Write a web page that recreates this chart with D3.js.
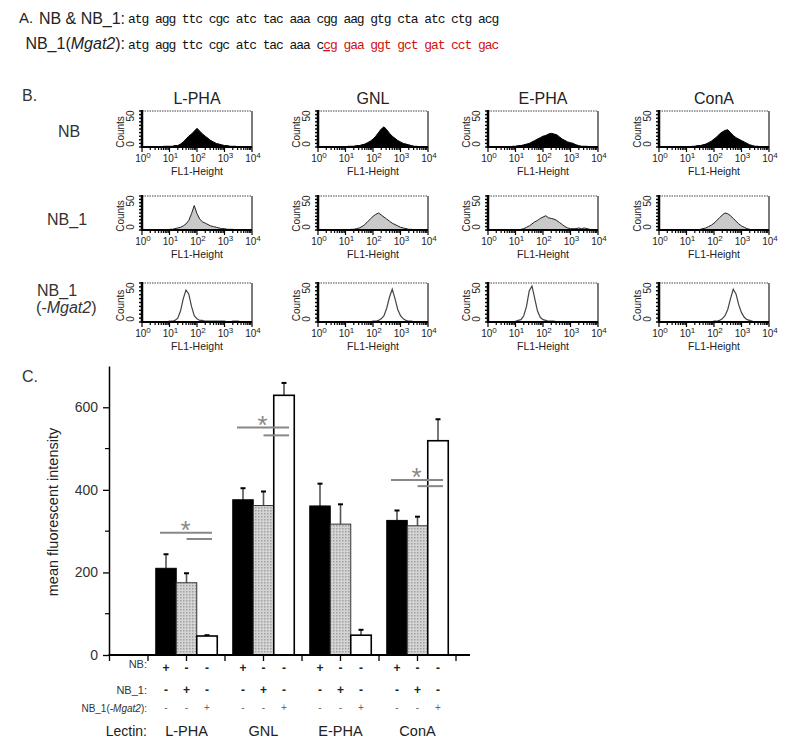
<!DOCTYPE html>
<html><head><meta charset="utf-8">
<script src="https://cdn.jsdelivr.net/npm/d3@7"></script>
<style>body{margin:0;background:#fff} svg{display:block}</style>
</head><body>
<svg id="c" width="800" height="754"></svg>
<script>
// ---------------- DATA ----------------
const seqWild = ["atg","agg","ttc","cgc","atc","tac","aaa","cgg","aag","gtg","cta","atc","ctg","acg"];
const seqMut  = ["atg","agg","ttc","cgc","atc","tac","aaa","ccg","gaa","ggt","gct","gat","cct","gac"];
const mutCodon = 7; // first altered codon (0-based)

const lectins = ["L-PHA","GNL","E-PHA","ConA"];
const cellLines = ["NB","NB_1","NB_1(-Mgat2)"];

// Panel B histograms: bins in log10(FL1-Height), counts per bin
const binLog = [0.0,0.1,0.2,0.3,0.4,0.5,0.6,0.7,0.8,0.9,1.0,1.1,1.2,1.3,1.4,1.5,1.6,1.7,1.8,1.9,2.0,
                2.1,2.2,2.3,2.4,2.5,2.6,2.7,2.8,2.9,3.0,3.1,3.2,3.3,3.4,3.5,3.6,3.7,3.8,3.9,4.0];
const histNB_LPHA = [0,0,0,0,0,0,0,0,1,1,1,1,2,2,4,7,11,15,18,22,26,22,18,15,12,9,7,5,4,3,2,2,1,1,1,0,0,0,0,0,0];
const histNB_GNL  = [0,0,0,0,0,0,0,0,0,0,0,1,1,1,2,2,3,4,6,8,11,15,20,25,28,24,19,15,12,9,7,5,4,3,2,1,1,0,0,0,0];
const histNB_EPHA = [0,0,0,0,0,0,0,0,0,1,1,2,2,3,4,5,7,9,11,13,15,16,18,19,18,17,14,11,9,7,6,5,3,2,1,1,1,0,0,0,0];
const histNB_ConA = [0,0,0,0,0,0,0,0,0,0,0,0,1,1,2,2,3,4,6,8,11,14,18,21,23,24,20,16,13,11,9,7,5,3,2,1,1,0,0,0,0];
const histNB1_LPHA = [0,0,0,0,0,0,0,0,0,0,1,1,2,3,4,6,9,14,24,36,24,16,12,10,8,6,5,4,3,2,2,1,1,1,0,0,0,0,0,0,0];
const histNB1_GNL  = [0,0,0,0,0,0,0,0,0,0,0,0,1,1,2,3,5,8,12,16,20,23,25,22,19,16,13,10,8,6,4,3,2,1,1,0,0,0,0,0,0];
const histNB1_EPHA = [0,0,0,0,0,0,0,0,0,0,0,0,1,2,4,6,9,12,14,17,19,21,18,17,16,14,11,8,5,3,2,2,2,3,2,3,2,1,0,0,0];
const histNB1_ConA = [0,0,0,0,0,0,0,0,0,0,0,0,0,0,0,1,2,3,5,7,10,14,18,22,25,24,21,17,13,9,6,4,2,1,0,0,0,0,0,0,0];
const histKO_LPHA = [0,0,0,0,0,0,0,0,0,0,1,1,2,5,14,30,41,36,20,8,4,2,2,1,1,1,1,1,1,1,1,0,0,1,1,1,0,0,0,0,0];
const histKO_GNL  = [0,0,0,0,0,0,0,0,0,0,0,0,0,0,0,0,0,0,0,0,1,1,2,4,8,18,32,42,30,16,8,4,2,1,1,0,0,0,0,0,0];
const histKO_EPHA = [0,0,0,0,0,0,0,0,0,0,1,2,3,8,20,40,46,30,14,6,3,2,1,1,1,0,0,0,0,0,0,0,0,0,0,0,0,0,0,0,0];
const histKO_ConA = [0,0,0,0,0,0,0,0,0,0,0,0,0,0,0,0,0,0,0,0,1,1,2,4,8,16,30,42,36,22,12,6,3,2,1,0,0,0,0,0,0];
const histRows = [
  [histNB_LPHA, histNB_GNL, histNB_EPHA, histNB_ConA],
  [histNB1_LPHA, histNB1_GNL, histNB1_EPHA, histNB1_ConA],
  [histKO_LPHA, histKO_GNL, histKO_EPHA, histKO_ConA]
];
const histDecades = [0,1,2,3,4];
const countTicks = [0,50];

// Panel C: mean fluorescent intensity (mean, error)
const mfiNB   = [210, 376, 361, 326];
const errNB   = [34, 28, 54, 24];
const mfiNB1  = [175, 362, 317, 313];
const errNB1  = [23, 34, 48, 22];
const mfiKO   = [46, 629, 48, 519];
const errKO   = [2, 30, 13, 52];
const yTicksMajor = [0, 200, 400, 600];
const yTicksMinor = [100, 300, 500];
// significance brackets
const sigLectins = ["L-PHA","GNL","ConA"];
const sigLong  = [296, 551, 424];
const sigShort = [281, 532, 409];

// ---------------- DRAW ----------------
const svg = d3.select("#c");
const SANS = "'Liberation Sans', Arial, sans-serif";
const MONO = "'Liberation Mono', 'Courier New', monospace";
svg.attr("font-family", SANS);

// ===== Panel A =====
svg.append("text").attr("x",19).attr("y",23).attr("font-size",15).attr("fill","#222").text("A.");
svg.append("text").attr("x",125).attr("y",24).attr("text-anchor","end").attr("font-size",16)
  .attr("textLength",86).attr("fill","#222").text("NB & NB_1:");
const l2 = svg.append("text").attr("x",125).attr("y",49).attr("text-anchor","end").attr("font-size",16).attr("fill","#222");
l2.append("tspan").text("NB_1(");
l2.append("tspan").attr("font-style","italic").text("Mgat2");
l2.append("tspan").text("):");

svg.append("text").attr("x",128).attr("y",23).attr("font-family",MONO).attr("font-size",13)
  .attr("letter-spacing","-1.07px").attr("fill","#111").attr("xml:space","preserve")
  .text(seqWild.join(" "));
const s2 = svg.append("text").attr("x",128).attr("y",49).attr("font-family",MONO).attr("font-size",13)
  .attr("letter-spacing","-1.07px").attr("fill","#111").attr("xml:space","preserve");
s2.append("tspan").text(seqMut.slice(0,mutCodon).join(" ") + " " + seqMut[mutCodon][0]);
s2.append("tspan").attr("fill","#d01010").attr("text-decoration","underline").text(seqMut[mutCodon][1]);
s2.append("tspan").attr("fill","#d01010").text(seqMut[mutCodon][2] + " " + seqMut.slice(mutCodon+1).join(" "));

// ===== Panel B =====
svg.append("text").attr("x",22).attr("y",101).attr("font-size",16).attr("fill","#333").text("B.");
const colX = [142, 318, 488, 659];
const boxW = 110;
const rowTop = [111, 196, 283];
const rowBase = [147, 230, 322];
lectins.forEach((l,i)=>{
  svg.append("text").attr("x",colX[i]+boxW/2).attr("y",104).attr("text-anchor","middle")
    .attr("font-size",16).attr("fill","#222").text(l);
});
// row labels
svg.append("text").attr("x",58).attr("y",137).attr("font-size",16).attr("fill","#333").text("NB");
svg.append("text").attr("x",47).attr("y",225).attr("font-size",16).attr("fill","#333").text("NB_1");
svg.append("text").attr("x",37).attr("y",296).attr("font-size",16).attr("fill","#333").text("NB_1");
const rl3 = svg.append("text").attr("x",36).attr("y",313).attr("font-size",16).attr("fill","#333");
rl3.append("tspan").text("(");
rl3.append("tspan").attr("font-style","italic").text("-Mgat2");
rl3.append("tspan").text(")");

const fills = ["#000", "#c9c9c9", "none"];
const strokes = ["#000", "#222", "#444"];
histRows.forEach((row, r)=>{
  row.forEach((counts, c)=>{
    const x0 = colX[c], top = rowTop[r], base = rowBase[r];
    const xs = d3.scaleLinear().domain([0,4]).range([x0, x0+boxW]);
    const ys = d3.scaleLinear().domain([0,50]).range([base, top]);
    const g = svg.append("g");
    // frame
    g.append("line").attr("x1",x0).attr("x2",x0+boxW).attr("y1",top).attr("y2",top)
      .attr("stroke","#444").attr("stroke-width",1.2).attr("stroke-dasharray","1.5,1");
    g.append("line").attr("x1",x0+boxW).attr("x2",x0+boxW).attr("y1",top).attr("y2",base)
      .attr("stroke","#222").attr("stroke-width",1.2);
    // histogram
    const pts = binLog.map((b,i)=>({x:b, y:counts[i]}));
    const area = d3.area().x(d=>xs(d.x)).y0(base).y1(d=>ys(d.y));
    const line = d3.line().x(d=>xs(d.x)).y(d=>ys(d.y));
    if (r < 2) g.append("path").attr("d", area(pts)).attr("fill", fills[r]);
    g.append("path").attr("d", line(pts)).attr("fill","none").attr("stroke",strokes[r]).attr("stroke-width", r===2?1.2:1);
    // left axis (thick) with ticks
    g.append("line").attr("x1",x0).attr("x2",x0).attr("y1",top-1).attr("y2",base+1)
      .attr("stroke","#000").attr("stroke-width",2.5);
    d3.range(0,51,5).forEach(v=>{
      g.append("line").attr("x1",x0-3).attr("x2",x0).attr("y1",ys(v)).attr("y2",ys(v))
        .attr("stroke","#000").attr("stroke-width",1.4);
    });
    // bottom axis with log ticks
    g.append("line").attr("x1",x0-1).attr("x2",x0+boxW).attr("y1",base).attr("y2",base)
      .attr("stroke","#000").attr("stroke-width",2.2);
    histDecades.slice(0,4).forEach(d=>{
      for (let k=1;k<=9;k++){
        const lv = d + Math.log10(k);
        g.append("line").attr("x1",xs(lv)).attr("x2",xs(lv)).attr("y1",base)
          .attr("y2",base + (k===1?5:3)).attr("stroke","#000").attr("stroke-width",1.2);
      }
    });
    g.append("line").attr("x1",xs(4)).attr("x2",xs(4)).attr("y1",base).attr("y2",base+5)
      .attr("stroke","#000").attr("stroke-width",1.2);
    histDecades.forEach(d=>{
      const t = g.append("text").attr("x",xs(d)+1).attr("y",base+15).attr("text-anchor","middle")
        .attr("font-size",10).attr("fill","#222");
      t.append("tspan").text("10");
      t.append("tspan").attr("dy",-4).attr("font-size",8).text(d);
    });
    g.append("text").attr("x",x0+boxW/2).attr("y",base+28).attr("text-anchor","middle")
      .attr("font-size",10.5).attr("fill","#222").text("FL1-Height");
    // y labels
    countTicks.forEach(v=>{
      const yy = v===0 ? ys(v)-3 : ys(v)+5;
      g.append("text").attr("transform",`translate(${x0-8},${yy}) rotate(-90)`)
        .attr("text-anchor","middle").attr("font-size",10).attr("fill","#222").text(v);
    });
    g.append("text").attr("transform",`translate(${x0-18},${(top+base)/2+3}) rotate(-90)`)
      .attr("text-anchor","middle").attr("font-size",10).attr("fill","#222").text("Counts");
  });
});

// ===== Panel C =====
svg.append("text").attr("x",22).attr("y",382).attr("font-size",16).attr("fill","#333").text("C.");
const yC = d3.scaleLinear().domain([0,700]).range([655, 366]);
const xC = d3.scaleBand().domain(lectins).range([148, 456]);
const xSub = d3.scaleBand().domain([0,1,2]).range([0, xC.bandwidth()]).paddingOuter(0.378);

const defs = svg.append("defs");
const pat = defs.append("pattern").attr("id","dots").attr("width",3).attr("height",3)
  .attr("patternUnits","userSpaceOnUse");
pat.append("rect").attr("width",3).attr("height",3).attr("fill","#d4d4d4");
pat.append("rect").attr("width",1.5).attr("height",1.5).attr("fill","#a0a0a0");

const series = [
  {vals: mfiNB,  errs: errNB,  fill: "#000", stroke: "#000"},
  {vals: mfiNB1, errs: errNB1, fill: "url(#dots)", stroke: "#333"},
  {vals: mfiKO,  errs: errKO,  fill: "#fff", stroke: "#000"}
];
series.forEach((s, si)=>{
  lectins.forEach((l, li)=>{
    const bx = xC(l) + xSub(si), bw = xSub.bandwidth();
    const cx = bx + bw/2;
    const v = s.vals[li], e = s.errs[li];
    svg.append("line").attr("x1",cx).attr("x2",cx).attr("y1",yC(v)).attr("y2",yC(v+e))
      .attr("stroke","#555").attr("stroke-width",1.6);
    svg.append("line").attr("x1",cx-2.5).attr("x2",cx+2.5).attr("y1",yC(v+e)).attr("y2",yC(v+e))
      .attr("stroke","#000").attr("stroke-width",2);
    svg.append("rect").attr("x",bx).attr("y",yC(v)).attr("width",bw).attr("height",yC(0)-yC(v))
      .attr("fill",s.fill).attr("stroke",s.stroke).attr("stroke-width", si===2?1.6:1);
  });
});

// y axis
const yAxis = d3.axisLeft(yC).tickValues(yTicksMajor).tickSize(6).tickSizeOuter(0).tickPadding(5);
const ya = svg.append("g").attr("transform","translate(109,0)").call(yAxis);
ya.select(".domain").attr("stroke","#000").attr("stroke-width",1.5);
ya.selectAll(".tick line").attr("stroke","#000").attr("stroke-width",1.3);
ya.selectAll(".tick text").attr("font-size",14).attr("fill","#333").attr("font-family",SANS);
yTicksMinor.forEach(v=>{
  svg.append("line").attr("x1",105).attr("x2",109).attr("y1",yC(v)).attr("y2",yC(v))
    .attr("stroke","#000").attr("stroke-width",1.2);
});
svg.append("text").attr("transform","translate(58,512) rotate(-90)").attr("text-anchor","middle")
  .attr("font-size",14.5).attr("fill","#222").text("mean fluorescent intensity");

// x axis
svg.append("line").attr("x1",108.5).attr("x2",470).attr("y1",yC(0)).attr("y2",yC(0))
  .attr("stroke","#000").attr("stroke-width",1.8);
const xTickPos = [xC(lectins[0]) - xC.bandwidth()/2];
lectins.forEach(l=>{ xTickPos.push(xC(l)); xTickPos.push(xC(l)+xC.bandwidth()/2); });
xTickPos.push(xC(lectins[3]) + xC.bandwidth());
xTickPos.forEach(x=>{
  svg.append("line").attr("x1",x).attr("x2",x).attr("y1",yC(0)).attr("y2",yC(0)+6)
    .attr("stroke","#000").attr("stroke-width",1.3);
});

// significance markers
sigLectins.forEach((l, i)=>{
  const blk = xC(l) + xSub(0) + xSub.bandwidth()/2;
  const gry = xC(l) + xSub(1) + xSub.bandwidth()/2;
  const wht = xC(l) + xSub(2) + xSub.bandwidth()/2;
  svg.append("line").attr("x1",blk-6).attr("x2",wht+5).attr("y1",yC(sigLong[i])).attr("y2",yC(sigLong[i]))
    .attr("stroke","#888").attr("stroke-width",2);
  svg.append("line").attr("x1",gry).attr("x2",wht+5).attr("y1",yC(sigShort[i])).attr("y2",yC(sigShort[i]))
    .attr("stroke","#888").attr("stroke-width",2);
  svg.append("text").attr("x",gry-1).attr("y",yC(sigLong[i])+6).attr("text-anchor","middle")
    .attr("font-size",26).attr("fill","#888").text("*");
});

// table under axis
const rowY = [668, 690, 707];
const rowLab = ["NB:", "NB_1:", "NB_1(-Mgat2):"];
svg.append("text").attr("x",147).attr("y",rowY[0]-4).attr("dominant-baseline","central")
  .attr("text-anchor","end").attr("font-size",11).attr("fill","#333").text(rowLab[0]);
svg.append("text").attr("x",147).attr("y",rowY[1]).attr("dominant-baseline","central")
  .attr("text-anchor","end").attr("font-size",11).attr("fill","#333").text(rowLab[1]);
const r3 = svg.append("text").attr("x",147).attr("y",rowY[2]+1).attr("dominant-baseline","central")
  .attr("text-anchor","end").attr("font-size",10).attr("fill","#333");
r3.append("tspan").text("NB_1(");
r3.append("tspan").attr("font-style","italic").text("-Mgat2");
r3.append("tspan").text("):");
svg.append("text").attr("x",147).attr("y",731).attr("dominant-baseline","central")
  .attr("text-anchor","end").attr("font-size",14).attr("fill","#222").text("Lectin:");

cellLines.forEach((cl, ri)=>{
  lectins.forEach(l=>{
    [0,1,2].forEach(si=>{
      const cx = xC(l) + xSub(si) + xSub.bandwidth()/2;
      svg.append("text").attr("x",cx).attr("y",rowY[ri]).attr("dominant-baseline","central")
        .attr("text-anchor","middle").attr("font-size", ri===2?10:12).attr("font-weight", ri===2?"normal":"bold")
        .attr("fill", ri===2?"#666":"#222").text(si===ri ? "+" : "-");
    });
  });
});
lectins.forEach(l=>{
  svg.append("text").attr("x",xC(l)+xC.bandwidth()/2).attr("y",731).attr("dominant-baseline","central")
    .attr("text-anchor","middle").attr("font-size",14.5).attr("fill","#222").text(l);
});
</script>
</body></html>
